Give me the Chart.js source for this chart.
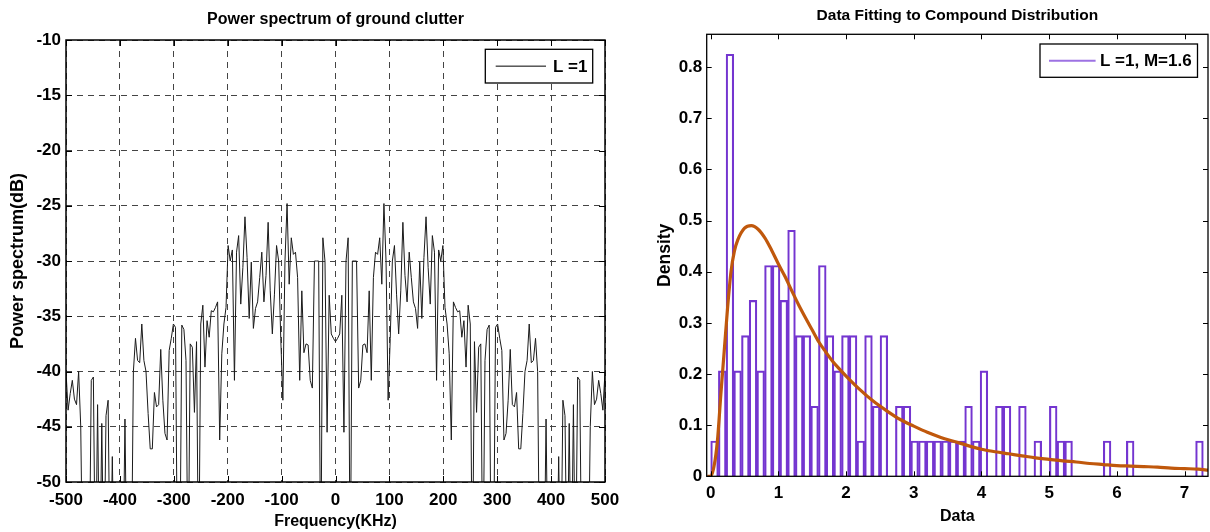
<!DOCTYPE html>
<html>
<head>
<meta charset="utf-8">
<script src="https://cdn.jsdelivr.net/npm/chart.js@4.4.1/dist/chart.umd.min.js"></script>
<style>
  html, body { margin: 0; padding: 0; background: #fff; }
  body { width: 1210px; height: 532px; position: relative; overflow: hidden; }
  .panel { position: absolute; top: 0; }
</style>
</head>
<body>
<div class="panel" style="left:0"><canvas id="spectrum" width="630" height="532"></canvas></div>
<div class="panel" style="left:630px"><canvas id="fitting" width="580" height="532"></canvas></div>
<script>
// Left panel: power spectrum, 257 samples from -500 to 500 kHz
const spectrumStart = -500;
const spectrumStep = 1000 / 256;
const spectrumDb = [
  -40, -43.5, -42, -40.8, -42.5, -43, -40, -45, -60, -60,
  -60, -60, -40.8, -40.5, -60, -43, -60, -44.7, -60, -44,
  -42.6, -60, -47.7, -60, -60, -60, -60, -60, -44.3, -60,
  -60, -60, -40, -37, -39, -39.2, -35.7, -39, -40, -43.8,
  -47, -47, -41.9, -43.2, -43, -38, -42.6, -45.6, -46.2, -38.1,
  -37, -35.7, -36, -60, -60, -35.8, -36.2, -39, -60, -37.5,
  -37.8, -43.7, -37.3, -60, -35.7, -34, -39.6, -35.4, -36.9, -34.5,
  -34.6, -34.2, -33.7, -46.2, -38.4, -35.7, -34.2, -28.6, -30, -29,
  -40.8, -29.2, -27.7, -33.9, -30.6, -26, -29.7, -35.2, -30.1, -36.1,
  -34.3, -33.7, -31.5, -29.2, -33.7, -31.3, -26.5, -32.7, -36.6, -33,
  -28.6, -30, -37, -42.6, -30, -24.8, -32.1, -27.9, -29.4, -29.2,
  -31.5, -40.8, -32.7, -38.3, -37.5, -37.6, -40.8, -41.5, -30, -30,
  -30, -60, -27.9, -30, -45.5, -33.1, -36.6, -37, -37.3,
  -37, -36.6, -33.1, -45.5, -30, -27.9, -60, -30, -30, -30,
  -41.5, -40.8, -37.6, -37.5, -38.3, -32.7, -40.8, -31.5, -29.2, -29.4,
  -27.9, -32.1, -24.8, -30, -42.6, -37, -30, -28.6, -33, -36.6,
  -32.7, -26.5, -31.3, -33.7, -29.2, -31.5, -33.7, -34.3, -36.1, -30.1,
  -35.2, -29.7, -26, -30.6, -33.9, -27.7, -29.2, -40.8, -29, -30,
  -28.6, -34.2, -35.7, -38.4, -46.2, -33.7, -34.2, -34.6, -34.5, -36.9,
  -35.4, -39.6, -34, -35.7, -60, -37.3, -43.7, -37.8, -37.5, -60,
  -39, -36.2, -35.8, -60, -60, -36, -35.7, -37, -38.1, -46.2,
  -45.6, -42.6, -38, -43, -43.2, -41.9, -47, -47, -43.8, -40,
  -39, -35.7, -39.2, -39, -37, -40, -60, -60, -60, -44.3,
  -60, -60, -60, -60, -60, -47.7, -60, -42.6, -44, -60,
  -44.7, -60, -43, -60, -40.5, -40.8, -60, -60, -60, -60,
  -45, -40, -43, -42.5, -40.8, -42, -43.5, -40
];

// Right panel: histogram (64 bins) and fitted density curve
const binWidth = 0.1137;
const histDensity = [
  0.069, 0.206, 0.825, 0.206, 0.275, 0.344, 0.206, 0.412, 0.412, 0.344,
  0.481, 0.275, 0.275, 0.137, 0.412, 0.275, 0.206, 0.275, 0.275, 0.069,
  0.275, 0.137, 0.275, 0, 0.137, 0.137, 0.069, 0.069, 0.069, 0.069,
  0.069, 0.069, 0.069, 0.137, 0.069, 0.206, 0, 0.137, 0.137, 0,
  0.137, 0, 0.069, 0, 0.137, 0.069, 0.069, 0, 0, 0,
  0, 0.069, 0, 0, 0.069, 0, 0, 0, 0, 0,
  0, 0, 0, 0.069
];
const fitX = [-0.05, 0, 0.05, 0.1, 0.15, 0.2, 0.25, 0.3, 0.35, 0.4, 0.5, 0.6, 0.7, 0.8, 0.9,
  1.0, 1.1, 1.2, 1.3, 1.4, 1.5, 1.6, 1.7, 1.8, 1.9, 2.0, 2.2, 2.4, 2.6, 2.8,
  3.0, 3.2, 3.4, 3.6, 3.8, 4.0, 4.2, 4.4, 4.6, 4.8, 5.0, 5.2, 5.4, 5.6, 5.8,
  6.0, 6.2, 6.4, 6.6, 6.8, 7.0, 7.2, 7.35];
const fitY = [0, 0, 0.02, 0.07, 0.16, 0.245, 0.33, 0.4, 0.44, 0.462, 0.485, 0.49, 0.483, 0.466, 0.442,
  0.415, 0.39, 0.362, 0.335, 0.31, 0.286, 0.262, 0.243, 0.225, 0.21, 0.196, 0.17, 0.147, 0.128, 0.111,
  0.098, 0.086, 0.076, 0.068, 0.06, 0.053, 0.048, 0.044, 0.04, 0.036, 0.033, 0.03, 0.028, 0.025, 0.023,
  0.021, 0.02, 0.019, 0.018, 0.016, 0.015, 0.014, 0.012];

const FONT = '"Liberation Sans", Arial, sans-serif';
Chart.defaults.font.family = FONT;
Chart.defaults.font.weight = 'bold';
Chart.defaults.font.size = 17;
Chart.defaults.color = '#000';

// frame, inward tick marks and a boxed legend drawn over the plot
const boxFrame = {
  id: 'boxFrame',
  afterDatasetsDraw(chart, args, o) {
    const { ctx, chartArea: a } = chart;
    const x = chart.scales.x, y = chart.scales.y;
    ctx.save();
    ctx.strokeStyle = '#000';
    ctx.lineWidth = 1;
    ctx.beginPath();
    for (const t of x.ticks) {
      const px = Math.round(x.getPixelForValue(t.value)) + 0.5;
      ctx.moveTo(px, a.bottom); ctx.lineTo(px, a.bottom - o.tick);
      ctx.moveTo(px, a.top); ctx.lineTo(px, a.top + o.tick);
    }
    for (const t of y.ticks) {
      const py = Math.round(y.getPixelForValue(t.value)) + 0.5;
      ctx.moveTo(a.left, py); ctx.lineTo(a.left + o.tick, py);
      ctx.moveTo(a.right, py); ctx.lineTo(a.right - o.tick, py);
    }
    ctx.stroke();
    ctx.lineWidth = o.frame;
    ctx.strokeRect(a.left, a.top, a.width, a.height);

    const g = o.legend;
    const bx = a.right - g.right - g.w, by = a.top + g.top;
    ctx.fillStyle = '#fff';
    ctx.fillRect(bx, by, g.w, g.h);
    ctx.lineWidth = 1.3;
    ctx.strokeRect(bx, by, g.w, g.h);
    ctx.strokeStyle = g.color;
    ctx.lineWidth = g.lineWidth;
    ctx.beginPath();
    ctx.moveTo(bx + g.x0, by + g.h / 2);
    ctx.lineTo(bx + g.x1, by + g.h / 2);
    ctx.stroke();
    ctx.fillStyle = '#000';
    ctx.font = 'bold 17px ' + FONT;
    ctx.textBaseline = 'middle';
    ctx.fillText(g.text, bx + g.tx, by + g.h / 2 + 1);
    ctx.restore();
  }
};

const spectrumPoints = spectrumDb.map((v, i) => ({ x: spectrumStart + i * spectrumStep, y: v }));

new Chart(document.getElementById('spectrum'), {
  type: 'line',
  data: {
    datasets: [{
      label: 'L =1',
      data: spectrumPoints,
      borderColor: '#1a1a1a',
      borderWidth: 1,
      pointRadius: 0,
      tension: 0
    }]
  },
  options: {
    responsive: false,
    animation: false,
    layout: { padding: { left: 0, right: 25, top: 0, bottom: 0 } },
    plugins: {
      legend: { display: false },
      tooltip: { enabled: false },
      title: {
        display: true,
        text: 'Power spectrum of ground clutter',
        fullSize: false,
        font: { size: 16, weight: 'bold' },
        padding: { top: 10.4, bottom: 10.4 }
      },
      boxFrame: {
        tick: 6, frame: 1.5,
        legend: { text: 'L =1', color: '#000', lineWidth: 1, w: 107.4, h: 33.7, right: 12.3, top: 9.3, x0: 10.4, x1: 60.7, tx: 67.7 }
      }
    },
    scales: {
      x: {
        type: 'linear', min: -500, max: 500,
        ticks: { stepSize: 100, padding: 8, maxRotation: 0 },
        grid: { color: '#444', lineWidth: 1, drawTicks: false },
        border: { display: false, dash: [6, 5] },
        title: { display: true, text: 'Frequency(KHz)', font: { size: 16, weight: 'bold' }, padding: { top: 0, bottom: 1 } },
        afterFit: s => { s.height = 50; }
      },
      y: {
        min: -50, max: -10,
        ticks: { stepSize: 5, padding: 5 },
        grid: { color: '#444', lineWidth: 1, drawTicks: false },
        border: { display: false, dash: [6, 5] },
        title: { display: true, text: 'Power spectrum(dB)', font: { size: 18, weight: 'bold' }, padding: { top: 7.5, bottom: 0 } },
        afterFit: s => { s.width = 66; }
      }
    }
  },
  plugins: [boxFrame]
});

const histPoints = histDensity.map((v, i) => ({ x: (i + 0.5) * binWidth, y: v }));
const fitPoints = fitX.map((v, i) => ({ x: v, y: fitY[i] }));

new Chart(document.getElementById('fitting'), {
  type: 'bar',
  data: {
    datasets: [{
      type: 'line',
      label: 'fit',
      data: fitPoints,
      borderColor: '#c0580c',
      borderWidth: 3.2,
      pointRadius: 0,
      cubicInterpolationMode: 'monotone',
      order: 0
    }, {
      label: 'L =1, M=1.6',
      data: histPoints,
      backgroundColor: 'rgba(255,255,255,0)',
      borderColor: '#7435d0',
      borderWidth: 1.5,
      barPercentage: 1,
      categoryPercentage: 1,
      order: 1
    }]
  },
  options: {
    responsive: false,
    animation: false,
    layout: { padding: { left: 0, right: 2, top: 0, bottom: 0 } },
    plugins: {
      legend: { display: false },
      tooltip: { enabled: false },
      title: {
        display: true,
        text: 'Data Fitting to Compound Distribution',
        fullSize: false,
        font: { size: 15.5, weight: 'bold' },
        padding: { top: 6, bottom: 9.7 }
      },
      boxFrame: {
        tick: 5, frame: 1.3,
        legend: { text: 'L =1, M=1.6', color: '#9d72e3', lineWidth: 2, w: 157.5, h: 33.3, right: 10.5, top: 9.7, x0: 9, x1: 55.6, tx: 60 }
      }
    },
    scales: {
      x: {
        type: 'linear', min: -0.059, max: 7.346, offset: false,
        ticks: { stepSize: 1, padding: 6.5, includeBounds: false, maxRotation: 0 },
        grid: { display: false, drawTicks: false },
        border: { display: false },
        title: { display: true, text: 'Data', font: { size: 16, weight: 'bold' }, padding: { top: 0, bottom: 5.5 } },
        afterFit: s => { s.height = 55.7; }
      },
      y: {
        min: 0, max: 0.864,
        ticks: { stepSize: 0.1, padding: 4.4, includeBounds: false, callback: v => String(Math.round(v * 10) / 10) },
        grid: { display: false, drawTicks: false },
        border: { display: false },
        title: { display: true, text: 'Density', font: { size: 17.5, weight: 'bold' }, padding: { top: 24.5, bottom: 0 } },
        afterFit: s => { s.width = 76.7; }
      }
    }
  },
  plugins: [boxFrame]
});
</script>
</body>
</html>
